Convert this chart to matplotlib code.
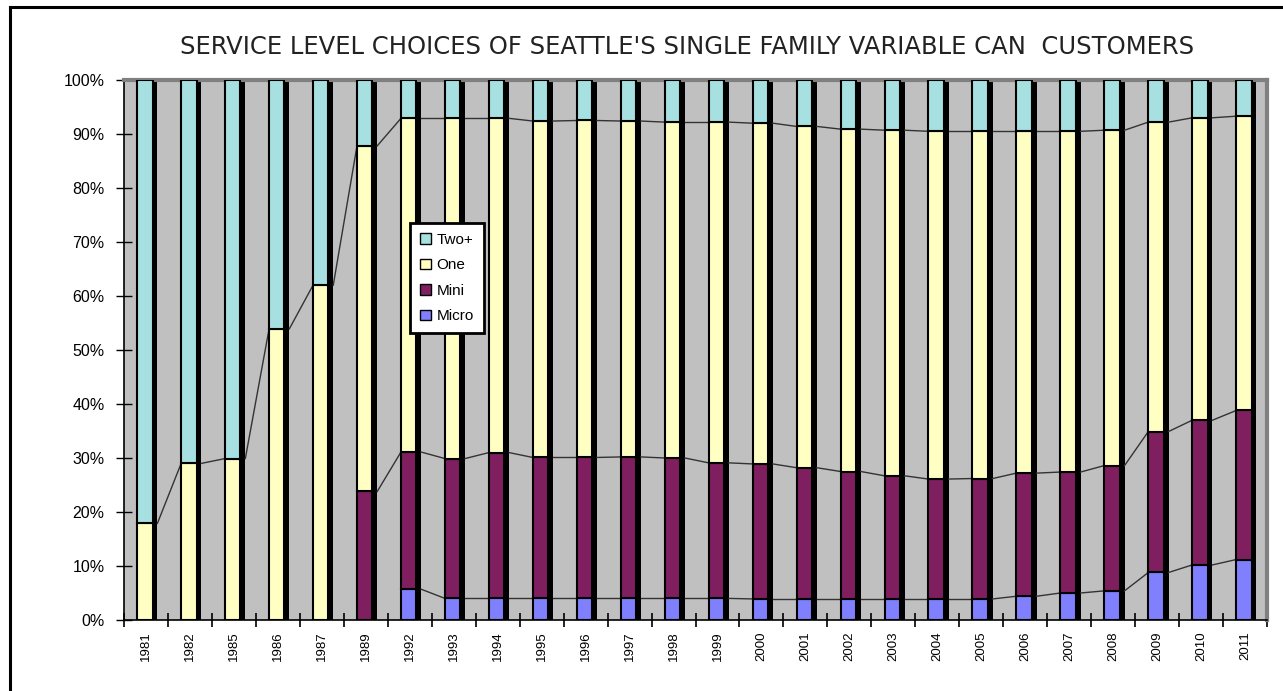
import matplotlib.pyplot as plt
import numpy as np
from matplotlib.lines import Line2D
from matplotlib.patches import Patch

plt.rcParams['font.family'] = 'Liberation Sans'

# Data (percent of customers)
years = ['1981', '1982', '1985', '1986', '1987', '1989', '1992', '1993', '1994', '1995',
         '1996', '1997', '1998', '1999', '2000', '2001', '2002', '2003', '2004', '2005',
         '2006', '2007', '2008', '2009', '2010', '2011']
micro = [0, 0, 0, 0, 0, 0, 5.7, 4.0, 4.0, 4.0, 4.0, 4.0, 4.0, 4.0, 3.9, 3.9, 3.9, 3.9,
         3.9, 3.9, 4.4, 5.0, 5.4, 8.8, 10.2, 11.2]
mini = [0, 0, 0, 0, 0, 23.8, 25.4, 25.9, 27.0, 26.1, 26.1, 26.2, 26.0, 25.1, 25.0, 24.3,
        23.6, 22.8, 22.2, 22.3, 22.8, 22.4, 23.2, 26.1, 26.8, 27.6]
one = [17.9, 29.0, 29.9, 53.9, 62.0, 64.0, 61.8, 63.0, 61.9, 62.3, 62.4, 62.2, 62.2, 63.1,
       63.1, 63.2, 63.4, 64.0, 64.4, 64.3, 63.3, 63.1, 62.1, 57.3, 56.0, 54.5]
two_plus = [82.1, 71.0, 70.1, 46.1, 38.0, 12.2, 7.1, 7.1, 7.1, 7.6, 7.5, 7.6, 7.8, 7.8,
            8.0, 8.6, 9.1, 9.3, 9.5, 9.5, 9.5, 9.5, 9.3, 7.8, 7.0, 6.7]

series = [('Micro', micro, '#8080FF'),
          ('Mini', mini, '#7F1F5F'),
          ('One', one, '#FFFFC4'),
          ('Two+', two_plus, '#A6E0E0')]

fig = plt.figure(figsize=(12.83, 6.91), dpi=100)
ax = fig.add_axes([124 / 1283, 1 - 620 / 691, (1267 - 124) / 1283, (620 - 80) / 691])
ax.set_facecolor('#C0C0C0')

x = np.arange(len(years))
bar_left = -0.2
bar_w = 0.35
edge_w = 0.11

# black right edge of each column
total = np.sum([np.array(s[1]) for s in series], axis=0)
ax.bar(x + bar_left + bar_w, total, width=edge_w, align='edge', color='black', zorder=2)

bottom = np.zeros(len(years))
for name, vals, col in series:
    vals = np.array(vals)
    ax.bar(x + bar_left, vals, width=bar_w, bottom=bottom, align='edge', color=col,
           edgecolor='black', linewidth=1.5, zorder=3)
    top = bottom + vals
    # series lines between columns
    if name != 'Two+':
        for i in range(len(years) - 1):
            if vals[i] > 0 and vals[i + 1] > 0:
                ax.plot([x[i] + bar_left + bar_w + edge_w, x[i + 1] + bar_left],
                        [top[i], top[i + 1]], color='#333333', linewidth=1.0, zorder=2)
    bottom = top

ax.set_xlim(-0.5, len(years) - 0.5)
ax.set_ylim(0, 100)
ax.set_yticks(np.arange(0, 101, 10))
ax.set_yticklabels(['%d%%' % v for v in range(0, 101, 10)], fontsize=11.5)
ax.set_xticks(np.arange(-0.5, len(years), 1.0))
ax.set_xticklabels([])
ax.set_xticks(x, minor=True)
ax.set_xticklabels(years, minor=True, rotation=90, fontsize=9.5)
ax.tick_params(axis='x', which='major', direction='inout', length=10, width=1.2)
ax.tick_params(axis='x', which='minor', length=0, pad=8)
ax.tick_params(axis='y', direction='inout', length=12, width=1.0, pad=8)

for s in ['left', 'bottom']:
    ax.spines[s].set_color('black')
    ax.spines[s].set_linewidth(1.2)
for s in ['top', 'right']:
    ax.spines[s].set_color('#808080')
    ax.spines[s].set_linewidth(3)

handles = [Patch(facecolor=c, edgecolor='black', label=n) for n, v, c in series[::-1]]
leg = fig.legend(handles=handles, loc='upper left', bbox_to_anchor=(410 / 1283, 1 - 223 / 691),
                 fontsize=11, frameon=True, fancybox=False, edgecolor='black',
                 handlelength=0.7, handleheight=0.7, handletextpad=0.4,
                 labelspacing=0.75, borderpad=0.65, borderaxespad=0)
leg.get_frame().set_linewidth(2)
leg.get_frame().set_facecolor('white')
leg.get_frame().set_alpha(1)

fig.text(687 / 1283, 1 - 47 / 691,
         "SERVICE LEVEL CHOICES OF SEATTLE'S SINGLE FAMILY VARIABLE CAN  CUSTOMERS",
         ha='center', va='center', fontsize=17.5, family='DejaVu Sans', color='#222222')

# outer frame (left and top)
fig.add_artist(Line2D([10 / 1283, 10 / 1283], [0, 1 - 7 / 691], color='black', linewidth=2.2))
fig.add_artist(Line2D([10 / 1283, 1], [1 - 7 / 691, 1 - 7 / 691], color='black', linewidth=2.2))

plt.savefig('out.png', dpi=100)
